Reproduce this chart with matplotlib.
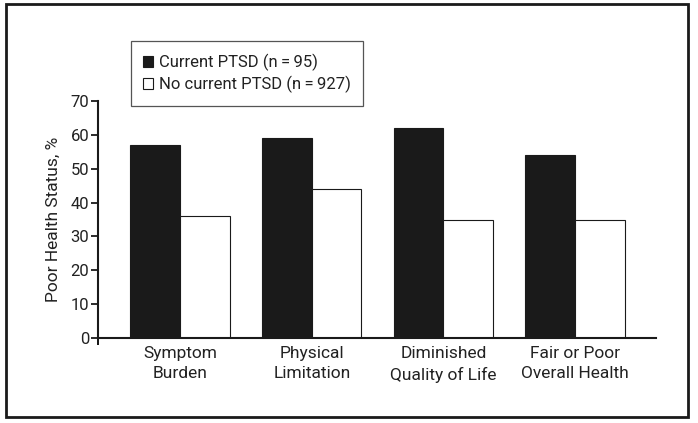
"""Bar chart: poor health status by current PTSD."""
import matplotlib
matplotlib.use("Agg")
import matplotlib.pyplot as plt
import numpy as np
from matplotlib.patches import Rectangle

categories = ["Symptom\nBurden", "Physical\nLimitation",
              "Diminished\nQuality of Life", "Fair or Poor\nOverall Health"]
current_ptsd = [57, 59, 62, 54]
no_current_ptsd = [36, 44, 35, 35]
series_labels = ["Current PTSD (n\u2009=\u200995)", "No current PTSD (n\u2009=\u2009927)"]
y_ticks = [0, 10, 20, 30, 40, 50, 60, 70]

plt.rcParams["font.family"] = ["Roboto", "DejaVu Sans"]

fig = plt.figure(figsize=(6.98, 4.23), dpi=100)
ax = fig.add_axes([0.141, 0.201, 0.799, 0.560])

x = np.arange(len(categories))
width = 0.377
ax.bar(x - width / 2, current_ptsd, width, color="#1a1a1a",
       edgecolor="#1a1a1a", linewidth=0.8, label=series_labels[0])
ax.bar(x + width / 2, no_current_ptsd, width, color="white",
       edgecolor="#1a1a1a", linewidth=0.8, label=series_labels[1])

ax.set_xlim(-0.62, 3.615)
ax.set_ylim(0, 70)
ax.set_yticks(y_ticks)
ax.set_xticks(x)
ax.set_xticklabels(categories, fontsize=12.5, linespacing=1.4, color="#222222")
ax.tick_params(axis="x", length=0, pad=6)
ax.tick_params(axis="y", direction="out", length=5, width=1.3,
               labelsize=12, pad=1.5, colors="#1a1a1a", labelcolor="#222222")
# little tick under the origin
ax.set_xticks([-0.62], minor=True)
ax.tick_params(axis="x", which="minor", direction="out", length=5, width=1.3)

for side in ("top", "right"):
    ax.spines[side].set_visible(False)
for side in ("left", "bottom"):
    ax.spines[side].set_linewidth(1.5)
    ax.spines[side].set_color("#1a1a1a")

ax.set_ylabel("Poor Health Status, %", fontsize=12.5, labelpad=7, color="#222222")

leg = fig.legend(loc="upper left", bbox_to_anchor=(0.187, 0.902),
                 bbox_transform=fig.transFigure,
                 frameon=True, fancybox=False, framealpha=1, fontsize=12,
                 handlelength=0.6, handleheight=0.6, handletextpad=0.35,
                 borderpad=0.75, labelspacing=0.3, borderaxespad=0)
leg.get_frame().set_edgecolor("#555555")
leg.get_frame().set_linewidth(0.9)
for t in leg.get_texts():
    t.set_color("#222222")

# outer frame around the whole figure
fig.patches.append(Rectangle((0.009, 0.015), 0.977, 0.975,
                             transform=fig.transFigure, fill=False,
                             edgecolor="#1a1a1a", linewidth=2))

fig.savefig("out.png", dpi=100, facecolor="white")
